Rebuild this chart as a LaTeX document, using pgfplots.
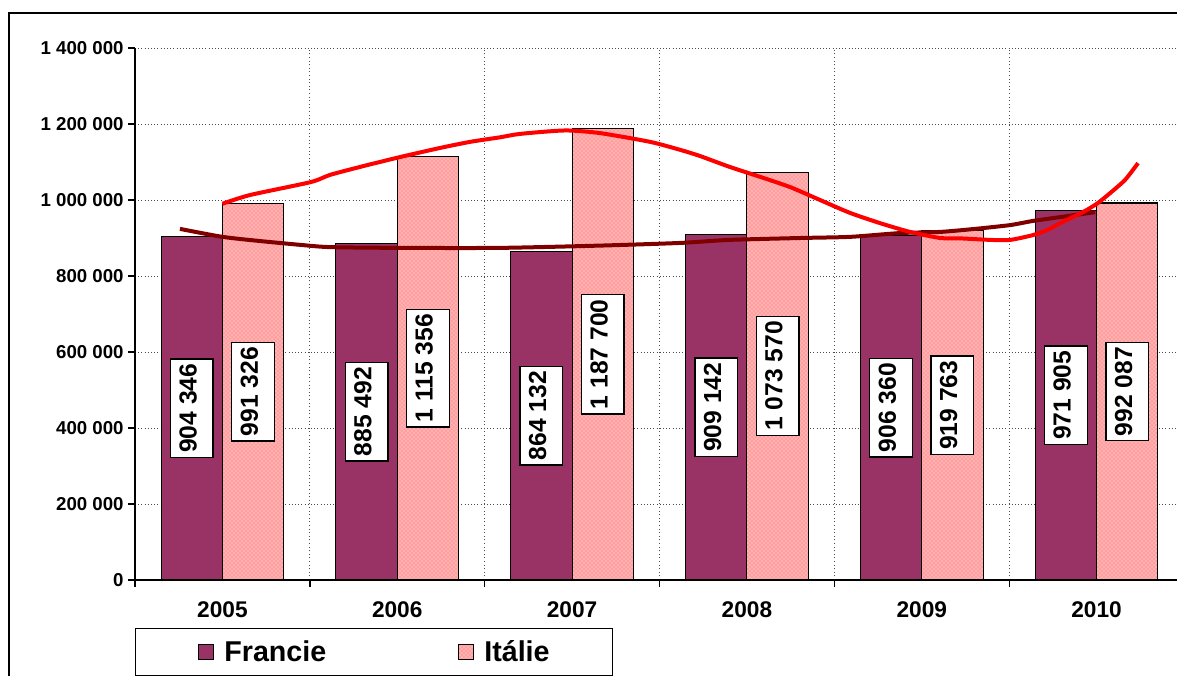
\documentclass[border=0pt]{standalone}
\usepackage{fontspec}
\setmainfont{Liberation Sans}
\usepackage{pgfplots}
\usepackage{pgfplotstable}
\pgfplotsset{compat=1.18}
\usetikzlibrary{patterns}

\definecolor{francie}{RGB}{153,51,102}
\definecolor{italiefill}{RGB}{255,158,158}
\definecolor{italiedot}{RGB}{255,240,240}
\definecolor{trendfr}{RGB}{128,0,0}
\definecolor{trendit}{RGB}{255,0,0}

% data: counts per year (x = 0 for 2005 ... 5 for 2010)
\pgfplotstableread{
x fr it
0 904346 991326
1 885492 1115356
2 864132 1187700
3 909142 1073570
4 906360 919763
5 971905 992087
}\bars

% trend line Francie
\pgfplotstableread{
x y
-0.243 924000
0.000 903000
0.215 892000
0.444 882000
0.615 876000
1.016 874000
1.588 874000
2.160 880000
2.618 887000
2.900 895000
3.305 900000
3.590 903000
3.876 913000
4.105 916000
4.305 924000
4.506 934000
4.637 945000
4.792 955000
4.992 968000
}\trendfr

% trend line Italie
\pgfplotstableread{
x y
0.000 990000
0.157 1013000
0.504 1047000
0.615 1066000
0.787 1087000
1.016 1113000
1.245 1137000
1.417 1153000
1.588 1165000
1.703 1174000
1.960 1183000
2.160 1176000
2.446 1153000
2.618 1132000
2.730 1116000
2.902 1087000
3.075 1061000
3.247 1034000
3.418 1000000
3.590 966000
3.762 939000
3.933 916000
4.105 900000
4.220 899000
4.391 895000
4.506 895000
4.639 908000
4.718 921000
4.792 939000
4.925 969000
5.004 991000
5.077 1018000
5.163 1053000
5.237 1097000
}\trendit

\begin{document}
\begin{tikzpicture}
\useasboundingbox (0,0) rectangle (882.75pt,506.25pt);
\clip (0,0) rectangle (882.75pt,506.25pt);
\draw[line width=1.5pt] (6.75pt,-20pt) -- (6.75pt,496.7pt) -- (900pt,496.7pt);

\begin{axis}[
    at={(101.25pt,71.25pt)}, anchor=south west,
    scale only axis,
    width=786.75pt, height=399pt,
    ybar=0pt, bar width=46pt,
    xmin=-0.5, xmax=5.5,
    ymin=0, ymax=1400000,
    enlargelimits=false,
    axis x line*=bottom, axis y line*=left,
    axis line style={line width=1pt},
    tick align=outside,
    font=\bfseries,
    /pgf/number format/.cd, fixed, precision=0, 1000 sep={\ }, assume math mode=true,
    /pgfplots/.cd,
    scaled y ticks=false,
    ytick={0,200000,400000,600000,800000,1000000,1200000,1400000},
    major tick length=5pt, minor tick length=5pt,
    y tick style={line width=1pt, black},
    xtick={0,1,2,3,4,5},
    xticklabels={2005,2006,2007,2008,2009,2010},
    major x tick style={draw=none},
    minor xtick={-0.5,0.5,1.5,2.5,3.5,4.5,5.5},
    minor x tick style={line width=1pt, black},
    ymajorgrids, xminorgrids,
    grid style={dotted, gray!60!black, line width=0.7pt},
    minor grid style={dotted, gray!60!black, line width=0.7pt},
    yticklabel style={font=\fontsize{14}{14}\selectfont\bfseries},
    xticklabel style={font=\fontsize{17}{17}\selectfont\bfseries, yshift=-8pt},
    legend columns=2,
    legend style={at={(0,0)}, anchor=north west, yshift=-36pt,
        draw=black, line width=1pt, inner xsep=47pt, inner ysep=9pt,
        font=\fontsize{21.5}{21.5}\selectfont\bfseries,
        nodes={inner sep=0pt},
        /tikz/every odd column/.append style={column sep=7.5pt},
        /tikz/every even column/.append style={column sep=99pt}},
    legend image code/.code={\draw[#1, line width=0.8pt] (0pt,-5.6pt) rectangle (11.2pt,5.6pt);},
    labelbox/.style={forget plot, draw=none, fill=none,
        nodes near coords, point meta=explicit,
        every node near coord/.append style={anchor=center, rotate=90,
            draw=black, fill=white, line width=1pt,
            inner xsep=3.5pt, inner ysep=0pt, minimum height=32pt,
            text height=0.72em, text depth=0pt,
            font=\fontsize{18.5}{18.5}\selectfont\bfseries}},
]
\addplot[fill=francie, draw=black, line width=0.8pt, bar shift=-23pt]
    table[x=x, y=fr]{\bars};
\addplot[fill=italiefill, draw=black, line width=0.8pt, bar shift=23pt,
    postaction={pattern=crosshatch dots, pattern color=italiedot}]
    table[x=x, y=it]{\bars};
\legend{Francie, Itálie}

\addplot[sharp plot, forget plot, draw=trendfr, line width=3pt, smooth, tension=0.4]
    table[x=x, y=y]{\trendfr};
\addplot[sharp plot, forget plot, draw=trendit, line width=3pt, smooth, tension=0.4]
    table[x=x, y=y]{\trendit};

% value labels, centred on the bars
\addplot[labelbox, bar shift=-23pt]
    table[x=x, y expr=\thisrow{fr}/2, meta=fr]{\bars};
\addplot[labelbox, bar shift=23pt]
    table[x=x, y expr=\thisrow{it}/2, meta=it]{\bars};
\end{axis}
\end{tikzpicture}
\end{document}
